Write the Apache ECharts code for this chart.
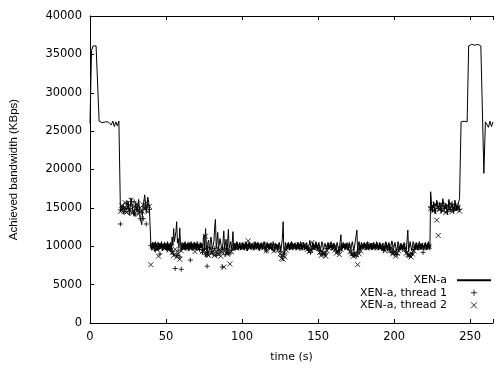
<!DOCTYPE html>
<html>
<head>
<meta charset="utf-8">
<script src="https://cdn.jsdelivr.net/npm/echarts@6/dist/echarts.min.js"></script>
<style>html,body{margin:0;padding:0;background:#fff;}#chart{width:496px;height:368px;}</style>
</head>
<body>
<div id="chart"></div>
<script>
// XEN-a total bandwidth (KBps)
// part 1: one value per second, t = 0 .. 39 s
var xenAStart = [
  26000, 35500, 36100, 36200, 36100, 36200, 26300, 26200, 26100, 26200,
  26200, 26100, 26200, 26200, 25800, 26300, 25600, 26200, 25700, 26300,
  14600, 15300, 14200, 15100, 14700, 15900, 14300, 16300, 14900, 13900,
  15600, 14500, 16100, 13700, 12800, 15300, 16700, 14400, 16400, 15200
];
// part 2: one value per half second, t = 40 .. 223.5 s
var xenAMid = [
  10300, 9500, 10500, 9700, 10400, 9400, 10600, 9800, 10300, 9500, 10500, 9600, 10400, 9800, 10600, 9400, 10300, 9700, 10500, 9600,
  10400, 9500, 10600, 9700, 10300, 9600, 10500, 9400, 11200, 10100, 12300, 10600, 10800, 11900, 13200, 10400, 11000, 9800, 12400, 10500,
  9400, 10500, 9700, 10400, 9500, 10600, 9800, 10300, 9600, 10500, 9400, 10400, 9700, 10600, 9500, 10300, 9800, 10500, 9600, 10400,
  9500, 10600, 9700, 10300, 9400, 10500, 9800, 10400, 9000, 11000, 11500, 9600, 12300, 10200, 8600, 10500, 10800, 9500, 10300, 11200,
  11300, 9600, 9400, 10700, 12500, 13500, 9800, 10600, 11800, 9700, 10200, 11000, 11000, 9800, 9500, 10600, 12000, 9700, 10300, 10900,
  9000, 10500, 12200, 9800, 10000, 10600, 9800, 10400, 11900, 9600, 10300, 9500, 9700, 10600, 10400, 9500, 9800, 10500, 10300, 9600,
  9700, 10500, 10400, 9500, 9900, 10600, 10300, 9400, 9600, 10500, 10400, 9700, 9800, 10300, 10300, 9500, 9700, 10600, 10400, 9600,
  9800, 10500, 10300, 9400, 9600, 10400, 10400, 9700, 9900, 10600, 10300, 9500, 9700, 10500, 10400, 9600, 9800, 10400, 10300, 9500,
  9700, 10600, 10400, 9600, 9900, 10300, 10300, 9500, 9600, 10500, 10500, 9400, 9400, 11000, 13200, 9000, 9300, 10500, 10300, 9600,
  9800, 10500, 10400, 9500, 9700, 10600, 10300, 9600, 9900, 10400, 10400, 9500, 9600, 10500, 10300, 9700, 9800, 10600, 10400, 9500,
  9700, 10500, 10300, 9600, 9900, 10400, 10400, 9500, 9600, 10700, 10300, 9400, 9800, 10500, 10400, 9600, 9700, 10600, 10300, 9500,
  9600, 10500, 10400, 9400, 9300, 10600, 10200, 9500, 9500, 10400, 10300, 9600, 9800, 10500, 10400, 9700, 9700, 10600, 10300, 9500,
  9900, 10400, 10400, 9600, 9600, 10500, 10300, 9500, 9800, 10600, 11500, 9400, 9400, 10500, 10300, 9600, 9700, 10400, 10400, 9500,
  9800, 10500, 10300, 9600, 9500, 10600, 10400, 9400, 9300, 10700, 10500, 12100, 9200, 10300, 10600, 9500, 9600, 10500, 10300, 9600,
  9800, 10500, 10400, 9500, 9700, 10600, 10300, 9600, 9900, 10400, 10400, 9500, 9600, 10500, 10300, 9700, 9800, 10600, 10400, 9500,
  9700, 10500, 10300, 9600, 9900, 10400, 10400, 9500, 9600, 10600, 10300, 9400, 9800, 10500, 10400, 9600, 9500, 10700, 10300, 9500,
  9600, 10500, 10400, 9400, 9700, 10600, 10300, 9600, 9800, 10400, 10400, 9500, 9600, 10500, 10300, 9400, 9700, 10800, 12100, 9300,
  9300, 10600, 10500, 9400, 9500, 10600, 10300, 9600, 9800, 10500, 10400, 9500, 9700, 10600, 10300, 9600, 9900, 10400, 10400, 9500,
  9600, 10500, 10300, 9500, 9800, 10600, 10400, 9600
];
// part 3: one value per second, t = 224 .. 265 s
var xenAEnd = [
  17100, 14500, 15800, 14200, 16000, 14800,
  15700, 14300, 16200, 14900, 15500, 14100, 16100, 14700, 15600, 14400,
  16000, 14800, 15400, 16200, 26200, 26200, 26300, 26200, 26200, 36100,
  36200, 36300, 36100, 36200, 36200, 36300, 36200, 36100, 36200, 19500,
  26200, 26300, 25500, 26300, 25600, 26200
];

// per-thread samples, one value per second starting at t = 20 s
var threadStart = 20;
var thread1 = [
  12900, 14800, 15200, 14500, 15600, 14900, 14300, 15400, 14700, 15800,
  14200, 15100, 14600, 13600, 14400, 13600, 15000, 12900, 15300, 14800,
  10100, 9900, 10200, 9500, 10000, 9700, 9000, 10100, 9800, 10200,
  9900, 9600, 10100, 9700, 9300, 9000, 7100, 8800, 9400, 8600,
  7000, 9800, 10100, 9700, 10000, 9900, 8200, 10100, 9800, 10200,
  9900, 10000, 9600, 10100, 9200, 9600, 8900, 7400, 9100, 9800,
  9300, 9000, 9700, 8800, 9500, 9100, 9400, 7300, 9600, 8900,
  9700, 9200, 9000, 9500, 9800, 10100, 9900, 10200, 10000, 9800,
  10100, 9900, 10200, 9700, 10000, 10300, 9900, 10100, 9800, 10200,
  10000, 9800, 10100, 9900, 10200, 9700, 9400, 10100, 9900, 10200,
  9800, 9500, 10100, 9900, 10000, 9300, 8700, 8900, 9100, 9800,
  10100, 9900, 10200, 9800, 10000, 10100, 9900, 10200, 9700, 10000,
  10100, 9800, 10000, 9700, 9500, 9200, 9600, 10000, 9900, 10100,
  9800, 9400, 9000, 9300, 8900, 9100, 9700, 10000, 10100, 9800,
  10000, 9900, 9500, 9200, 9400, 9800, 10000, 10100, 9900, 10200,
  9900, 9500, 9100, 8800, 9000, 8700, 9200, 9500, 9800, 10000,
  10100, 9900, 10200, 9800, 10000, 10100, 9900, 10000, 9800, 10100,
  9900, 10000, 9700, 9500, 9800, 10100, 9900, 9600, 9200, 9400,
  9000, 9300, 8900, 9600, 9800, 10000, 9900, 9700, 9300, 9000,
  8700, 8900, 9100, 9600, 9900, 10100, 9800, 10000, 9900, 9200,
  10000, 9900, 10100, 10000, 15100, 14800, 15300, 14600, 15500, 14900,
  15200, 14700, 15600, 14900, 15300, 14500, 15100, 14800, 15400, 14700,
  15000, 14900, 15200, 14800
];
var thread2 = [
  14500, 15300, 14900, 15700, 14400, 15100, 14700, 16000, 14300, 15200,
  14800, 15500, 14200, 15000, 14600, 15400, 14900, 15700, 14500, 15200,
  7600, 10000, 9800, 10200, 9600, 8700, 10100, 9900, 10000, 9700,
  10100, 9800, 9500, 9800, 9200, 8800, 9600, 8600, 9000, 8300,
  9400, 10000, 9800, 10100, 9900, 10000, 9700, 10200, 9800, 9300,
  10000, 9900, 9700, 10000, 9300, 9500, 11300, 9000, 8800, 9600,
  9100, 9400, 8800, 9300, 9000, 9600, 8700, 9200, 7300, 9400,
  9000, 9500, 7700, 9300, 9700, 10000, 9800, 10100, 9900, 10000,
  9800, 10100, 9900, 10000, 10700, 9800, 10100, 9900, 10000, 10200,
  9900, 10100, 9800, 10000, 10200, 9900, 9400, 10000, 10100, 9800,
  10000, 9400, 9800, 10100, 9600, 9000, 8400, 8300, 8600, 9500,
  9900, 10100, 9800, 10000, 10200, 9900, 10000, 9800, 10100, 9900,
  10000, 10200, 9800, 9600, 9300, 9500, 10500, 9800, 10000, 9900,
  9700, 9200, 8800, 9100, 9000, 8700, 9400, 9800, 10000, 10100,
  9800, 9500, 9100, 9300, 8900, 9600, 10000, 9900, 10100, 9800,
  10000, 9300, 9000, 8700, 9100, 8900, 7600, 9000, 9400, 9900,
  10000, 10100, 9800, 10000, 9900, 10200, 9800, 10000, 10100, 9900,
  10000, 9800, 10100, 9700, 9400, 9900, 10000, 9500, 9800, 9000,
  9200, 8700, 9100, 9400, 9700, 9900, 10000, 9600, 9100, 8900,
  8800, 8600, 9000, 9400, 9800, 10000, 9900, 10100, 9800, 10000,
  9900, 10100, 9800, 10000, 14900, 15200, 14600, 15400, 13400, 11400,
  14800, 15400, 14600, 15100, 14400, 15300, 14800, 15600, 14500, 15000,
  15300, 14800, 15100, 14600
];

var xTicks = [0, 50, 100, 150, 200, 250];
var yTicks = [0, 5000, 10000, 15000, 20000, 25000, 30000, 35000, 40000];
var seriesNames = ['XEN-a', 'XEN-a, thread 1', 'XEN-a, thread 2'];

var FONT = 'DejaVu Sans';
var PLUS = 'path://M0,3L6,3M3,0L3,6';
var CROSS = 'path://M0,0L6,6M0,6L6,0';

function pairs(arr, start, step) { return arr.map(function (v, i) { return [start + i * step, v]; }); }
var xenAData = pairs(xenAStart, 0, 1).concat(pairs(xenAMid, 40, 0.5), pairs(xenAEnd, 224, 1));

var chart = echarts.init(document.getElementById('chart'), null, { renderer: 'canvas' });
var axisCommon = {
  axisLine: { show: true, lineStyle: { color: '#000', width: 1 } },
  axisTick: { show: true, inside: true, length: 4, lineStyle: { color: '#000', width: 1 } },
  splitLine: { show: false }
};
chart.setOption({
  animation: false,
  backgroundColor: '#fff',
  grid: { left: 88, right: 1, top: 16, bottom: 44 },
  xAxis: [
    Object.assign({
      type: 'value', position: 'bottom', min: 0, max: 265, interval: 50,
      name: 'time (s)', nameLocation: 'middle', nameGap: 29,
      nameTextStyle: { fontFamily: FONT, fontSize: 11, color: '#000' },
      axisLabel: { margin: 8, color: '#000', fontFamily: FONT, fontSize: 11.5,
        formatter: function (v) { return xTicks.indexOf(v) >= 0 ? String(v) : ''; } }
    }, axisCommon),
    Object.assign({
      type: 'value', position: 'top', min: 0, max: 265, interval: 50,
      axisLabel: { show: false }
    }, axisCommon)
  ],
  yAxis: [
    Object.assign({
      type: 'value', position: 'left', min: 0, max: 40000, interval: 5000,
      name: 'Achieved bandwidth (KBps)', nameLocation: 'middle', nameGap: 70, nameRotate: 90,
      nameTextStyle: { fontFamily: 'Liberation Sans', fontSize: 11.5, color: '#000' },
      axisLabel: { margin: 8, color: '#000', fontFamily: FONT, fontSize: 11.5,
        formatter: function (v) { return yTicks.indexOf(v) >= 0 ? String(v) : ''; } }
    }, axisCommon)
  ],
  legend: {
    orient: 'vertical', right: 4, top: 274, align: 'right', padding: 0,
    itemWidth: 34, itemHeight: 6, itemGap: 0, selectedMode: false,
    itemStyle: { borderWidth: 1 },
    textStyle: { fontFamily: FONT, fontSize: 11, color: '#000', lineHeight: 12.5, padding: [0, 5, 0, 0] },
    data: [
      { name: seriesNames[0], itemStyle: { opacity: 0 } },
      { name: seriesNames[1] },
      { name: seriesNames[2] }
    ]
  },
  series: [
    {
      name: seriesNames[0], type: 'line', data: xenAData,
      showSymbol: false, symbol: 'none',
      lineStyle: { color: '#000', width: 1 }, itemStyle: { color: '#000' }
    },
    {
      name: seriesNames[1], type: 'scatter', data: pairs(thread1, threadStart, 1),
      symbol: PLUS, symbolSize: 5,
      itemStyle: { color: 'rgba(0,0,0,0)', borderColor: '#000', borderWidth: 1 }
    },
    {
      name: seriesNames[2], type: 'scatter', data: pairs(thread2, threadStart, 1),
      symbol: CROSS, symbolSize: 5,
      itemStyle: { color: 'rgba(0,0,0,0)', borderColor: '#000', borderWidth: 1 }
    }
  ]
});
</script>
</body>
</html>
